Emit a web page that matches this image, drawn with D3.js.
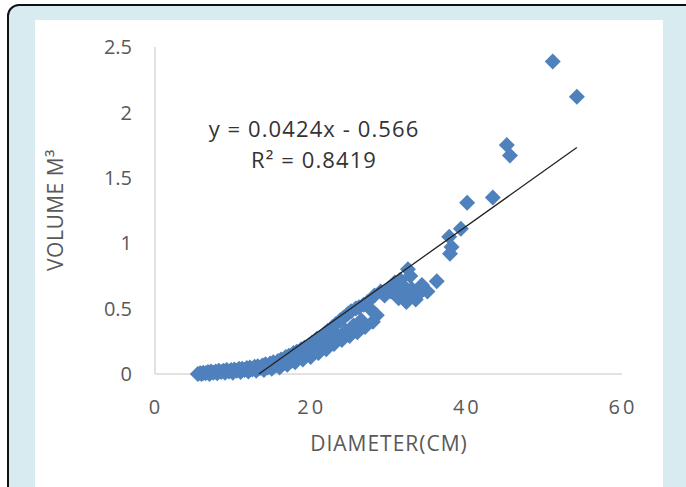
<!DOCTYPE html>
<html>
<head>
<meta charset="utf-8">
<script src="https://cdn.jsdelivr.net/npm/d3@7/dist/d3.min.js"></script>
<style>
  body { margin: 0; background: #fff; }
  svg text { font-family: "Open Sans", sans-serif; }
</style>
</head>
<body>
<svg id="chart" width="686" height="487"></svg>
<script>
// diameter (cm) and volume (m3)
var diam = [5.5, 5.8, 6, 6.2, 6.5, 6.8, 7, 7.2, 7.5, 7.8, 8, 8.2, 8.5, 8.8, 9, 9.2, 9.5, 9.8,
  10, 10.2, 10.5, 10.8, 11, 11.2, 11.5, 11.8, 12, 12.2, 12.5, 12.8, 13, 13.2, 13.5, 13.8,
  14, 14.2, 14.5, 14.8, 15, 15.2, 15.5, 15.8, 16, 16.2, 16.5, 16.8, 17, 17.2, 17.5, 17.8,
  18, 18.2, 18.5, 18.8, 19, 19.2, 19.5, 19.8, 20, 20.2, 20.5, 20.8, 21, 21.2, 21.5, 21.8,
  22, 22.2, 22.5, 22.8, 23, 23.2, 23.5, 23.8, 24, 24.2, 24.5, 24.8, 25, 25.2, 25.5, 25.8,
  26, 26.2, 26.5, 26.8, 27, 27.3, 27.6, 28, 28.2, 28.5, 29, 29.5, 30, 30.3, 30.8, 31, 31.3,
  31.5, 31.8, 32, 32.3, 32.5, 32.8, 33, 33.5, 33.5, 34, 34.3, 34.5, 35, 36.2, 37.8, 37.9,
  38.1, 39.3, 40.1, 43.4, 45.2, 45.6, 51.1, 54.2];
var vol = [0, 0.005, 0, 0.01, 0.005, 0.015, 0, 0.02, 0.01, 0.02, 0.005, 0.025, 0.015, 0.025, 0.01, 0.03, 0.02, 0.03,
  0.01, 0.035, 0.025, 0.04, 0.015, 0.04, 0.03, 0.045, 0.02, 0.05, 0.035, 0.055, 0.025, 0.06, 0.045, 0.065,
  0.03, 0.075, 0.05, 0.08, 0.04, 0.09, 0.065, 0.1, 0.05, 0.11, 0.08, 0.13, 0.07, 0.14, 0.1, 0.16,
  0.09, 0.17, 0.13, 0.19, 0.11, 0.2, 0.15, 0.22, 0.13, 0.24, 0.18, 0.27, 0.16, 0.28, 0.22, 0.31,
  0.19, 0.33, 0.25, 0.36, 0.23, 0.38, 0.29, 0.41, 0.26, 0.43, 0.33, 0.46, 0.29, 0.48, 0.37, 0.5,
  0.32, 0.51, 0.41, 0.53, 0.36, 0.55, 0.5, 0.4, 0.6, 0.45, 0.63, 0.6, 0.65, 0.63, 0.7, 0.62, 0.58,
  0.72, 0.68, 0.6, 0.55, 0.8, 0.75, 0.65, 0.6, 0.57, 0.62, 0.68, 0.65, 0.63, 0.71, 1.05, 0.92,
  0.97, 1.11, 1.31, 1.35, 1.75, 1.67, 2.39, 2.12];

var slope = 0.0424, intercept = -0.566;
var eqLines = ["y = 0.0424x - 0.566", "R\u00b2 = 0.8419"];
var xTicks = [0, 20, 40, 60];
var yTicks = [0, 0.5, 1, 1.5, 2, 2.5];

var svg = d3.select("#chart");

// frame
svg.append("rect").attr("x", 8).attr("y", 5).attr("width", 700).attr("height", 500)
  .attr("rx", 11).attr("fill", "#d7ebf1").attr("stroke", "#111").attr("stroke-width", 2);
svg.append("rect").attr("x", 35).attr("y", 20).attr("width", 628).attr("height", 480)
  .attr("fill", "#fff");

var x = d3.scaleLinear().domain([0, 60]).range([155, 622]);
var y = d3.scaleLinear().domain([0, 2.5]).range([374, 47]);

// axes lines
svg.append("line").attr("x1", x(0)).attr("x2", x(0)).attr("y1", y(2.5)).attr("y2", y(0))
  .attr("stroke", "#d9d9d9").attr("stroke-width", 1.5);
svg.append("line").attr("x1", x(0)).attr("x2", x(60)).attr("y1", y(0)).attr("y2", y(0))
  .attr("stroke", "#d9d9d9").attr("stroke-width", 1.5);

svg.selectAll(".ytick").data(yTicks).enter().append("text")
  .attr("class", "ytick")
  .attr("x", 132).attr("y", function(d) { return y(d); })
  .attr("dy", "0.36em").attr("text-anchor", "end")
  .attr("font-size", 20).attr("fill", "#595959")
  .text(function(d) { return d; });

svg.selectAll(".xtick").data(xTicks).enter().append("text")
  .attr("class", "xtick")
  .attr("x", function(d) { return x(d) + 1; }).attr("y", 414)
  .attr("text-anchor", "middle").attr("letter-spacing", 3)
  .attr("font-size", 20).attr("fill", "#595959")
  .text(function(d) { return d; });

// points
var pts = d3.range(diam.length).map(function(i) { return {d: diam[i], v: vol[i]}; });
var sym = d3.symbol().type(d3.symbolSquare).size(128);
svg.append("g").selectAll("path").data(pts).enter().append("path")
  .attr("d", sym)
  .attr("fill", "#4f81bd")
  .attr("transform", function(p) {
    return "translate(" + x(p.d) + "," + y(p.v) + ") rotate(45)";
  });

// trendline, clipped at y = 0
var x0 = Math.max(d3.min(diam), -intercept / slope), x1 = d3.max(diam);
svg.append("line")
  .attr("x1", x(x0)).attr("y1", y(slope * x0 + intercept))
  .attr("x2", x(x1)).attr("y2", y(slope * x1 + intercept))
  .attr("stroke", "#222").attr("stroke-width", 1.3);

svg.selectAll(".eq").data(eqLines).enter().append("text")
  .attr("class", "eq")
  .attr("x", 314).attr("y", function(d, i) { return 137 + i * 31; })
  .attr("text-anchor", "middle").attr("font-size", 22).attr("letter-spacing", 1.1)
  .attr("fill", "#333")
  .text(function(d) { return d; });

svg.append("text").attr("x", 389).attr("y", 451).attr("text-anchor", "middle")
  .attr("font-size", 21).attr("letter-spacing", 1).attr("fill", "#595959").text("DIAMETER(CM)");
svg.append("text").attr("transform", "translate(63,210) rotate(-90)")
  .attr("text-anchor", "middle").attr("letter-spacing", 0.5)
  .attr("font-size", 21).attr("fill", "#595959").text("VOLUME M\u00b3");
</script>
</body>
</html>
